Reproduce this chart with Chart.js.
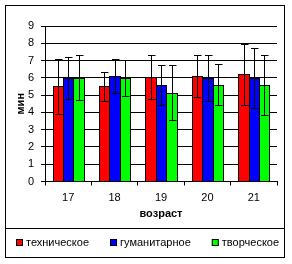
<!DOCTYPE html>
<html lang="ru">
<head>
  <meta charset="UTF-8" />
  <title>мин по возрасту</title>
  <script src="https://cdn.jsdelivr.net/npm/chart.js"></script>
  <style>
    body { margin: 0; background: #ffffff; }
    canvas { display: block; }
  </style>
</head>
<body>
  <canvas id="chart" width="292" height="264"></canvas>
  <script>
    // данные
    const ages = ['17', '18', '19', '20', '21'];
    const seriesNames = ['техническое', 'гуманитарное', 'творческое'];
    const seriesColors = ['#ff0000', '#0000ff', '#00ff00'];
    const technical = [5.5, 5.5, 6.05, 6.1, 6.2];
    const technicalErr = [1.6, 0.85, 1.3, 1.2, 1.75];
    const humanities = [6.0, 6.1, 5.6, 6.0, 6.0];
    const humanitiesErr = [1.2, 1.0, 1.15, 1.35, 1.75];
    const creative = [6.0, 6.0, 5.15, 5.6, 5.6];
    const creativeErr = [1.3, 1.05, 1.6, 1.2, 1.75];

    const FONT = '"Liberation Sans", Arial, sans-serif';

    // привязка столбцов к целым пикселям, чтобы контуры были чёткими
    const snapBars = {
      id: 'snapBars',
      afterDatasetsUpdate(chart) {
        chart.data.datasets.forEach((ds, i) => {
          chart.getDatasetMeta(i).data.forEach((bar) => {
            const l = Math.round(bar.x - bar.width / 2);
            const r = Math.round(bar.x + bar.width / 2) + 1;
            bar.x = (l + r) / 2;
            bar.width = r - l;
            bar.y = Math.round(bar.y);
          });
        });
      }
    };

    // планки погрешностей
    const errorBars = {
      id: 'errorBars',
      afterDatasetsDraw(chart) {
        const ctx = chart.ctx;
        const y = chart.scales.y;
        ctx.save();
        ctx.strokeStyle = '#000';
        ctx.lineWidth = 1;
        chart.data.datasets.forEach((ds, i) => {
          chart.getDatasetMeta(i).data.forEach((bar, j) => {
            const x = Math.floor(bar.x) + 0.5;
            const top = Math.round(y.getPixelForValue(ds.data[j] + ds.errors[j])) + 0.5;
            const bot = Math.round(y.getPixelForValue(ds.data[j] - ds.errors[j])) + 0.5;
            ctx.beginPath();
            ctx.moveTo(x, top); ctx.lineTo(x, bot);
            ctx.moveTo(x - 3.5, top); ctx.lineTo(x + 4, top);
            ctx.moveTo(x - 3.5, bot); ctx.lineTo(x + 4, bot);
            ctx.stroke();
          });
        });
        ctx.restore();
      }
    };

    // рамка и легенда
    const frameLegend = {
      id: 'frameLegend',
      afterDraw(chart) {
        const ctx = chart.ctx;
        ctx.save();
        ctx.strokeStyle = '#000';
        ctx.lineWidth = 1;
        ctx.strokeRect(5.5, 5.5, 279, 252);
        ctx.beginPath();
        ctx.moveTo(5.5, 228.5); ctx.lineTo(284.5, 228.5);
        ctx.stroke();

        ctx.font = '11px ' + FONT;
        ctx.textBaseline = 'middle';
        ctx.fillStyle = '#000';
        let x = 16;
        chart.data.datasets.forEach((ds) => {
          ctx.fillStyle = ds.backgroundColor;
          ctx.fillRect(x, 239, 7, 7);
          ctx.strokeRect(x + 0.5, 239.5, 6, 6);
          ctx.fillStyle = '#000';
          ctx.fillText(ds.label, x + 10, 243);
          x += 10 + ctx.measureText(ds.label).width + 21;
        });
        ctx.restore();
      }
    };

    new Chart(document.getElementById('chart'), {
      type: 'bar',
      data: {
        labels: ages,
        datasets: [
          { label: seriesNames[0], data: technical, errors: technicalErr, backgroundColor: seriesColors[0] },
          { label: seriesNames[1], data: humanities, errors: humanitiesErr, backgroundColor: seriesColors[1] },
          { label: seriesNames[2], data: creative, errors: creativeErr, backgroundColor: seriesColors[2] },
        ].map(d => Object.assign(d, {
          borderColor: '#000',
          borderWidth: 1,
          barPercentage: 1.0,
          categoryPercentage: 0.67,
        })),
      },
      options: {
        responsive: false,
        animation: false,
        layout: { padding: { left: 0, top: 26, right: 15, bottom: 36 } },
        plugins: {
          legend: { display: false },
          tooltip: { enabled: false },
        },
        scales: {
          x: {
            afterFit: (s) => { s.height = 46.5; },
            grid: { drawOnChartArea: false, color: '#000', tickLength: 4, offset: true },
            border: { color: '#000' },
            ticks: { color: '#000', font: { family: FONT, size: 11 }, padding: 6 },
            title: {
              display: true, text: 'возраст', color: '#000',
              font: { family: FONT, size: 11, weight: 'bold' },
              padding: { top: 0, bottom: 7 },
            },
          },
          y: {
            min: 0, max: 9,
            afterFit: (s) => { s.width = 45; },
            grid: { color: '#000', tickLength: 4 },
            border: { color: '#000' },
            ticks: { stepSize: 1, color: '#000', font: { family: FONT, size: 11 }, padding: 7 },
            title: {
              display: true, text: 'мин', color: '#000',
              font: { family: FONT, size: 11, weight: 'bold' },
              padding: { top: 14, bottom: 0 },
            },
          },
        },
      },
      plugins: [snapBars, errorBars, frameLegend],
    });
  </script>
</body>
</html>
